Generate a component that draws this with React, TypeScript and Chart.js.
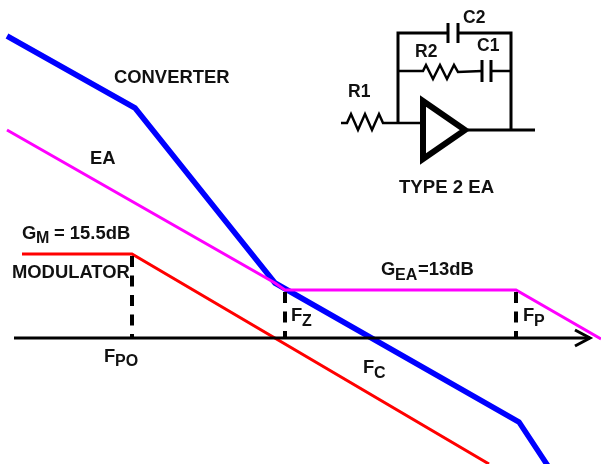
import React, { useEffect, useRef } from "react";
import { Chart, registerables } from "chart.js";

Chart.register(...registerables);

// x: horizontal position along the frequency axis; y: gain above the 0 dB axis
const converterX = [7, 135, 275, 519, 548];
const converterY = [302, 230, 55, -84, -128];
const eaX = [7, 275, 285, 516, 601];
const eaY = [208, 55, 48, 48, -1];
const modulatorX = [22, 132, 489];
const modulatorY = [84, 84, -126];

const axisX = [14, 590];
const axisY = [0, 0];
const arrowX = [575, 590, 575];
const arrowY = [8, 0, -8];

const markerFreqs = [132, 285, 516];
const markerTops = [82, 46, 46];

// circuit wires
const wireTopX = [398, 398, 448];
const wireTopY = [215, 305, 305];
const wireTopRightX = [458, 511, 511];
const wireTopRightY = [305, 305, 208];
const c2PlateAX = [448, 448];
const c2PlateBX = [458, 458];
const c2PlateY = [315, 295];
const r2WireX = [398, 423, 426, 433, 440, 447, 454, 458, 482];
const r2WireY = [267, 267, 273, 259, 273, 259, 273, 266, 267];
const c1WireX = [491, 511];
const c1WireY = [267, 267];
const c1PlateAX = [482, 482];
const c1PlateBX = [491, 491];
const c1PlateY = [278, 256];
const r1WireX = [341, 347, 351, 358, 365, 372, 379, 383, 387, 421];
const r1WireY = [215, 215, 224, 208, 224, 208, 224, 215, 215, 215];
const ampX = [423, 423, 465, 423, 423];
const ampY = [208, 237, 208, 179, 208];
const outWireX = [468, 535];
const outWireY = [208, 208];

type Label = { text: string; x: number; y: number; size: number };
const labels: Label[] = [
  { text: "CONVERTER", x: 114, y: 255, size: 18.4 },
  { text: "EA", x: 90, y: 174, size: 18.4 },
  { text: "G", x: 22, y: 99, size: 18.4 },
  { text: "M", x: 36, y: 95, size: 16 },
  { text: "= 15.5dB", x: 54, y: 99, size: 18.4 },
  { text: "MODULATOR", x: 12, y: 60, size: 18.4 },
  { text: "F", x: 104, y: -24, size: 18.4 },
  { text: "PO", x: 115, y: -28, size: 16 },
  { text: "F", x: 291, y: 17, size: 18.4 },
  { text: "Z", x: 302, y: 12, size: 16 },
  { text: "F", x: 523, y: 17, size: 18.4 },
  { text: "P", x: 534, y: 12, size: 16 },
  { text: "F", x: 363, y: -35, size: 18.4 },
  { text: "C", x: 374, y: -40, size: 16 },
  { text: "G", x: 381, y: 63, size: 18.4 },
  { text: "EA", x: 395, y: 58, size: 16 },
  { text: "=13dB", x: 418, y: 63, size: 18.4 },
  { text: "R1", x: 348, y: 241, size: 17.5 },
  { text: "R2", x: 415, y: 281, size: 17.5 },
  { text: "C1", x: 477, y: 287, size: 17.5 },
  { text: "C2", x: 463, y: 315, size: 17.5 },
  { text: "TYPE 2 EA", x: 399, y: 145, size: 18.6 },
];

const zip = (xs: number[], ys: number[]) => xs.map((x, i) => ({ x, y: ys[i] }));

const line = (xs: number[], ys: number[], color: string, width: number, dash: number[] = []) => ({
  type: "line" as const,
  data: zip(xs, ys),
  borderColor: color,
  borderWidth: width,
  borderDash: dash,
  pointRadius: 0,
  tension: 0,
  fill: false,
  borderJoinStyle: "miter" as const,
});

const textPlugin = {
  id: "diagramText",
  afterDatasetsDraw(chart: any) {
    const { ctx, scales } = chart;
    ctx.save();
    ctx.fillStyle = "#111";
    ctx.textBaseline = "alphabetic";
    ctx.textAlign = "left";
    for (const l of labels) {
      ctx.font = `bold ${l.size}px "Liberation Sans", Arial, sans-serif`;
      ctx.fillText(l.text, scales.x.getPixelForValue(l.x), scales.y.getPixelForValue(l.y));
    }
    ctx.restore();
  },
};

export default function App() {
  const ref = useRef<HTMLCanvasElement>(null);
  useEffect(() => {
    const black = "#000";
    const chart = new Chart(ref.current!, {
      type: "scatter",
      data: {
        datasets: [
          line(axisX, axisY, black, 3),
          line(arrowX, arrowY, black, 3),
          ...markerFreqs.map((f, i) => line([f, f], [markerTops[i], 0], black, 4, [11, 8.5])),
          line(modulatorX, modulatorY, "#ff0000", 3),
          line(eaX, eaY, "#ff00ff", 3),
          line(converterX, converterY, "#0000ff", 5.5),
          line(wireTopX, wireTopY, black, 3),
          line(wireTopRightX, wireTopRightY, black, 3),
          line(c2PlateAX, c2PlateY, black, 3),
          line(c2PlateBX, c2PlateY, black, 3),
          line(r2WireX, r2WireY, black, 2.5),
          line(c1WireX, c1WireY, black, 2.5),
          line(c1PlateAX, c1PlateY, black, 3),
          line(c1PlateBX, c1PlateY, black, 3),
          line(r1WireX, r1WireY, black, 2.5),
          line(ampX, ampY, black, 6),
          line(outWireX, outWireY, black, 3),
        ] as any,
      },
      options: {
        animation: false,
        responsive: false,
        layout: { padding: 0 },
        plugins: { legend: { display: false }, tooltip: { enabled: false } },
        scales: {
          x: { type: "linear", min: 0, max: 601, display: false },
          y: { type: "linear", min: -126, max: 338, display: false },
        },
      },
      plugins: [textPlugin],
    });
    return () => chart.destroy();
  }, []);
  return (
    <canvas
      ref={ref}
      width={601}
      height={464}
      style={{ position: "fixed", left: 0, top: 0, width: 601, height: 464, background: "#fff" }}
    />
  );
}
